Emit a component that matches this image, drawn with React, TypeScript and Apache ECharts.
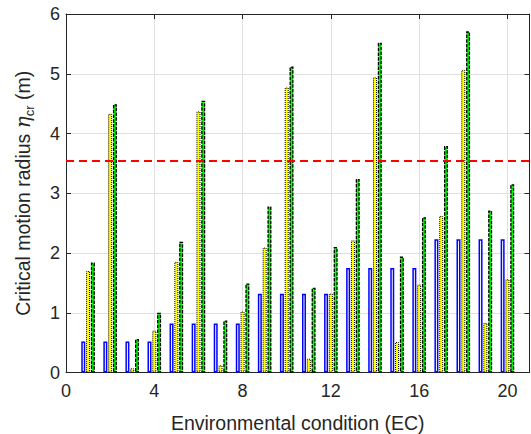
import React, { useEffect, useRef } from "react";
import * as echarts from "echarts";

const ecIndex = [1, 2, 3, 4, 5, 6, 7, 8, 9, 10, 11, 12, 13, 14, 15, 16, 17, 18, 19, 20];
const blueVals = [0.52, 0.52, 0.52, 0.52, 0.82, 0.82, 0.82, 0.82, 1.32, 1.32, 1.32, 1.32, 1.75, 1.75, 1.75, 1.75, 2.23, 2.23, 2.23, 2.23];
const yellowVals = [1.7, 4.33, 0.07, 0.7, 1.85, 4.37, 0.12, 1.02, 2.09, 4.77, 0.23, 1.32, 2.21, 4.94, 0.51, 1.47, 2.62, 5.06, 0.83, 1.56];
const greenVals = [1.84, 4.49, 0.56, 1.0, 2.19, 4.55, 0.87, 1.49, 2.78, 5.12, 1.42, 2.1, 3.24, 5.52, 1.94, 2.6, 3.79, 5.71, 2.71, 3.15];
const thresholdValue = 3.55;

const FONT = "'Liberation Sans', Arial, Helvetica, sans-serif";
const TXT = "#262626";

export default function App() {
  const ref = useRef<HTMLDivElement>(null);
  useEffect(() => {
    if (!ref.current) return;
    const chart = echarts.init(ref.current, null, { renderer: "svg" });
    const pair = (vals: number[]) => ecIndex.map((x, i) => [x, vals[i]]);
    const axisCommon = {
      type: "value" as const,
      axisLine: { show: true, onZero: false, lineStyle: { color: TXT, width: 1 } },
      axisTick: { show: true, inside: true, length: 5, lineStyle: { color: TXT, width: 1 } },
    };
    chart.setOption({
      animation: false,
      backgroundColor: "#ffffff",
      textStyle: { fontFamily: FONT },
      grid: { left: 66, top: 14, right: 1.5, bottom: 61.5, outerBoundsMode: "none" },
      xAxis: [
        {
          ...axisCommon,
          position: "bottom",
          min: 0,
          max: 21,
          interval: 4,
          name: "Environmental condition (EC)",
          nameLocation: "middle",
          nameGap: 40,
          nameTextStyle: { fontSize: 19.5, color: TXT, fontFamily: FONT },
          axisLabel: { fontSize: 18, color: TXT, margin: 9, showMaxLabel: false, fontFamily: FONT },
          splitLine: { show: true, lineStyle: { color: "#e0e0e0", width: 1 } },
        },
        {
          ...axisCommon,
          position: "top",
          min: 0,
          max: 21,
          interval: 4,
          axisLabel: { show: false },
          splitLine: { show: false },
        },
      ],
      yAxis: [
        {
          ...axisCommon,
          position: "left",
          min: 0,
          max: 6,
          interval: 1,
          name: "Critical motion radius {i|η}{s|cr} (m)",
          nameLocation: "middle",
          nameRotate: 90,
          nameGap: 30,
          nameTextStyle: {
            fontSize: 19.5,
            color: TXT,
            fontFamily: FONT,
            lineHeight: 26,
            rich: {
              i: { fontSize: 20, color: TXT, fontFamily: "'DejaVu Serif', serif", fontStyle: "italic", lineHeight: 26 },
              s: { fontSize: 13, color: TXT, fontFamily: FONT, lineHeight: 13, verticalAlign: "bottom" },
            },
          },
          axisLabel: { fontSize: 18, color: TXT, margin: 6, fontFamily: FONT },
          splitLine: { show: true, lineStyle: { color: "#e0e0e0", width: 1 } },
        },
        {
          ...axisCommon,
          position: "right",
          min: 0,
          max: 6,
          interval: 1,
          axisLabel: { show: false },
          splitLine: { show: false },
        },
      ],
      series: [
        {
          type: "bar",
          name: "blue",
          data: pair(blueVals),
          barWidth: 4,
          barGap: "20%",
          itemStyle: { color: "#ffffff", borderColor: "#0000ff", borderWidth: 1.5 },
        },
        {
          type: "bar",
          name: "yellow",
          data: pair(yellowVals),
          barWidth: 4,
          barGap: "20%",
          itemStyle: { color: "#ffff00", borderColor: "#000000", borderWidth: 1, borderType: [1, 1] },
        },
        {
          type: "bar",
          name: "green",
          data: pair(greenVals),
          barWidth: 4,
          barGap: "20%",
          itemStyle: { color: "#00ff00", borderColor: "#000000", borderWidth: 1.3, borderType: [3.5, 1.2] },
          markLine: {
            silent: true,
            symbol: "none",
            label: { show: false },
            lineStyle: { color: "#ff0000", type: [8, 5], width: 2 },
            data: [{ yAxis: thresholdValue }],
          },
        },
      ],
    });
    return () => chart.dispose();
  }, []);
  return (
    <div
      ref={ref}
      style={{ position: "fixed", left: 0, top: 0, width: 531, height: 434 }}
    />
  );
}
